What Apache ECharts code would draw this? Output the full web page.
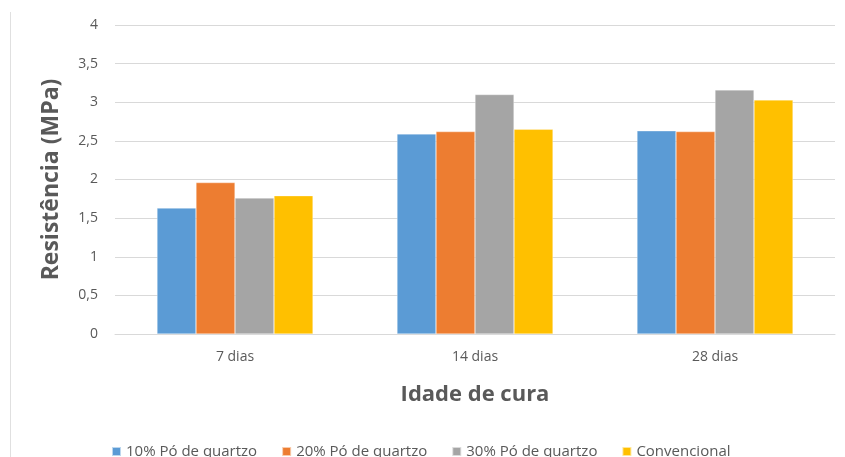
<!DOCTYPE html>
<html>
<head>
    <meta charset="UTF-8">
    <title>Resistência</title>
    <script src="https://cdn.jsdelivr.net/npm/echarts@6/dist/echarts.min.js"></script>
    <style>
        html, body { margin: 0; padding: 0; background: #fff; }
        #main { width: 845px; height: 457px; }
    </style>
</head>
<body>
<div id="main"></div>
<script type="text/javascript">
    // dados
    var categorias = ['7 dias', '14 dias', '28 dias'];
    var series10 = [1.63, 2.59, 2.63];
    var series20 = [1.96, 2.62, 2.62];
    var series30 = [1.76, 3.10, 3.16];
    var convencional = [1.79, 2.65, 3.03];
    var nomes = ['10% Pó de quartzo', '20% Pó de quartzo', '30% Pó de quartzo', 'Convencional'];
    var cores = ['#5b9bd5', '#ed7d31', '#a5a5a5', '#ffc000'];

    var myChart = echarts.init(document.getElementById('main'));
    var fonte = '"Open Sans", "Liberation Sans", sans-serif';

    var dados = [series10, series20, series30, convencional];
    var series = [];
    for (var i = 0; i < dados.length; i++) {
        series.push({
            name: nomes[i],
            type: 'bar',
            data: dados[i],
            barGap: '0%',
            barCategoryGap: '35%',
            itemStyle: { color: cores[i], borderColor: 'rgba(255,255,255,0.6)', borderWidth: 0.5 }
        });
    }

    var option = {
        animation: false,
        textStyle: { fontFamily: fonte },
        color: cores,
        grid: { left: 115, right: 10, top: 25, bottom: 123 },
        legend: {
            top: 439,
            left: 106,
            itemWidth: 9,
            itemHeight: 9,
            itemGap: 24,
            icon: 'rect',
            textStyle: { color: '#595959', fontSize: 15, fontFamily: fonte },
            data: nomes
        },
        xAxis: {
            type: 'category',
            data: categorias,
            name: 'Idade de cura',
            nameLocation: 'middle',
            nameGap: 50,
            nameTextStyle: { color: '#595959', fontSize: 22, fontWeight: 'bold', fontFamily: fonte },
            axisLine: { lineStyle: { color: '#d9d9d9' } },
            axisTick: { show: false },
            axisLabel: { color: '#595959', fontSize: 14, margin: 16 }
        },
        yAxis: {
            type: 'value',
            min: 0,
            max: 4,
            interval: 0.5,
            name: 'Resistência (MPa)',
            nameLocation: 'middle',
            nameGap: 52,
            nameTextStyle: { color: '#595959', fontSize: 23, fontWeight: 'bold', fontFamily: fonte },
            axisLine: { show: false },
            axisTick: { show: false },
            splitLine: { lineStyle: { color: '#d9d9d9' } },
            axisLabel: {
                color: '#595959',
                fontSize: 14,
                margin: 17,
                formatter: function (v) { return String(v).replace('.', ','); }
            }
        },
        graphic: [{
            type: 'line',
            shape: { x1: 10.5, y1: 12, x2: 10.5, y2: 457 },
            style: { stroke: '#e0e0e0', lineWidth: 1 }
        }],
        series: series
    };
    myChart.setOption(option);
</script>
</body>
</html>
